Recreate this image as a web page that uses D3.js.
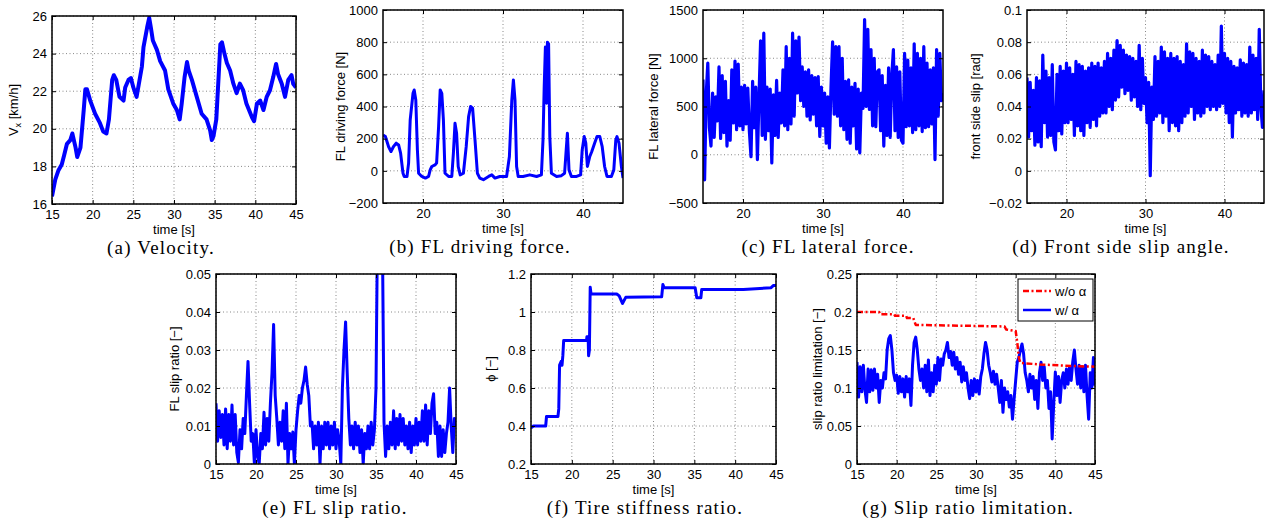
<!DOCTYPE html>
<html>
<head>
<meta charset="utf-8">
<script src="https://cdn.jsdelivr.net/npm/d3@7"></script>
<style>
  body { margin: 0; background: #fff; }
  svg { display: block; }
</style>
</head>
<body>
<div id="chart"></div>
<script>
// ---- data ----
// (a) velocity [km/h]
const velT = [15, 15.4, 15.8, 16.2, 16.5, 16.84, 17.25, 17.5, 17.9, 18.1, 18.5, 18.9, 19.1, 19.3, 19.7, 20.3, 20.9, 21.3, 21.7, 22.0,
  22.4, 22.6, 22.9, 23.3, 23.8, 24.0, 24.4, 24.7, 25.0, 25.4, 26.05, 26.25, 26.7, 26.95, 27.15, 27.4, 27.9, 28.3, 28.9, 29.3,
  29.9, 30.35, 30.7, 30.95, 31.3, 31.6, 31.8, 32.2, 32.8, 33.4, 34.0, 34.45, 34.65, 34.85, 35.2, 35.5, 35.7, 35.9, 36.2, 36.5,
  36.9, 37.3, 37.7, 38.1, 38.5, 38.9, 39.6, 39.85, 40.2, 40.6, 41.0, 41.4, 41.8, 42.2, 42.55, 42.8, 43.25, 43.65, 44.05, 44.45, 44.65, 45];
const velV = [16.4, 17.3, 17.8, 18.1, 18.6, 19.2, 19.4, 19.75, 19.0, 18.5, 19.0, 21.0, 22.1, 22.1, 21.5, 20.8, 20.3, 19.85, 19.75, 20.5,
  22.6, 22.85, 22.6, 21.7, 21.5, 22.2, 22.6, 22.7, 22.2, 21.7, 23.3, 24.35, 25.4, 25.9, 25.4, 24.7, 24.2, 23.6, 23.1, 22.1,
  21.35, 21.0, 20.5, 21.35, 22.75, 23.55, 23.1, 22.6, 21.7, 20.8, 20.5, 19.9, 19.4, 19.6, 20.5, 22.9, 24.5, 24.6, 24.0, 23.5,
  23.1, 22.4, 21.9, 22.4, 22.05, 21.35, 20.6, 20.4, 21.35, 21.5, 21.0, 21.7, 22.05, 22.75, 23.45, 22.9, 22.4, 21.7, 22.6, 22.85, 22.4, 22.2];

// (b) FL driving force [N]
const drvT = [15, 15.3, 15.7, 16.0, 16.3, 16.65, 16.95, 17.2, 17.5, 17.65, 18.0, 18.2, 18.4, 18.75, 18.9, 19.1, 19.3, 19.45, 19.85, 20.3,
  20.7, 20.9, 21.1, 21.5, 21.7, 21.95, 22.15, 22.35, 22.55, 22.75, 23.2, 23.6, 23.8, 24.0, 24.2, 24.4, 24.65, 25.05, 25.4, 25.7,
  25.95, 26.2, 26.5, 26.8, 27.1, 27.55, 28.2, 28.6, 29.0, 29.6, 30.45, 30.8, 31.1, 31.3, 31.5, 31.7, 31.9, 32.5, 33.35, 34.2,
  34.8, 35.0, 35.15, 35.3, 35.45, 35.55, 35.7, 35.85, 36.05, 36.7, 37.3, 37.7, 37.9, 38.05, 38.25, 38.55, 39.2, 39.7, 39.9, 40.15,
  40.35, 40.55, 40.85, 41.1, 41.45, 41.75, 42.1, 42.4, 42.7, 43.0, 43.55, 43.85, 44.1, 44.25, 44.5, 44.8, 45];
const drvV = [223, 213, 150, 120, 150, 172, 161, 110, -15, -35, -35, 48, 317, 482, 503, 440, 130, -15, -35, -45,
  -35, 6, 27, 37, 48, 275, 503, 482, 317, -15, -35, -35, 110, 296, 234, 27, -25, -15, 150, 337,
  400, 390, 192, -15, -45, -55, -35, -25, -45, -35, -35, 89, 440, 565, 440, 27, -35, -35, -25, -35,
  -25, 192, 523, 770, 420, 800, 790, 213, -15, -35, -30, -15, 130, 234, 6, -35, -35, -25, 130, 213,
  172, 27, 89, 120, 172, 213, 213, 150, 27, -35, -35, 6, 192, 213, 172, 27, -45];

// noisy signals sampled every 0.2 s from 15 s to 45 s
const sampleT = d3.range(0, 151).map(i => 15 + i * 0.2);

// (c) FL lateral force [N]
const latV = [780, -260, 620, 950, 280,  90, 640, 180, 600, 350,  910, 170, 820, 230, 760,  90, 560, 150, 880, 330,
  970, 260, 940, 300, 700,  260, 720, 320, 690, 240,  -20, 760, 280, 700, -50,  600, 1180, 200, 1260, 160,
  700, 250, 680, -85, 620,  200, 770, 180, 640, 330,  880, 300, 1120, 260, 1000,  320, 1260, 400, 1180, 640,
  1220, 560, 910, 500, 860,  400, 880, 360, 820, 420,  800, 300, 810, 190, 700,  300, 640, 120, 600, 70,
  700, 1170, 420, 1120, 400,  1120, 300, 1000, 260, 760,  160, 775, 120, 700, 300,  740, 60, 680, 20, 640,
  480, 1400, 500, 1300, 470,  1090, 300, 1000, 290, 860,  880, 250, 820, 90, 720,  200, 900, 180, 820, 1090,
  250, 910, 180, 860, 150,  120, 1050, 290, 980, 300,  900, 230, 1150, 260, 1050,  300, 1000, 240, 1120, 280,
  950, 290, 880, 320, 900,  -50, 1090, 400, 1050, 560,  640];

// (d) front side slip [rad]
const slipAngV = [0.058, 0.021, 0.055, 0.025, 0.050,  0.016, 0.058, 0.018, 0.056, 0.015,  0.072, 0.030, 0.062, 0.021, 0.058,
  0.022, 0.066, 0.018, 0.013, 0.060,  0.025, 0.065, 0.023, 0.062, 0.030,  0.067, 0.030, 0.064, 0.032, 0.060,
  0.022, 0.068, 0.028, 0.066, 0.025,  0.065, 0.022, 0.062, 0.030, 0.064,  0.027, 0.067, 0.032, 0.065, 0.028,
  0.067, 0.034, 0.064, 0.036, 0.068,  0.036, 0.073, 0.040, 0.070, 0.038,  0.075, 0.044, 0.081, 0.046, 0.078,
  0.052, 0.075, 0.048, 0.072, 0.050,  0.071, 0.044, 0.070, 0.046, 0.068,  0.040, 0.078, 0.038, 0.070, 0.042,
  0.058, 0.030, 0.055, -0.003, 0.052,  0.032, 0.071, 0.034, 0.068, 0.036,  0.077, 0.030, 0.074, 0.034, 0.070,
  0.025, 0.073, 0.030, 0.070, 0.028,  0.071, 0.025, 0.068, 0.030, 0.066,  0.034, 0.079, 0.036, 0.074, 0.040,
  0.073, 0.032, 0.070, 0.036, 0.068,  0.034, 0.075, 0.036, 0.072, 0.040,  0.071, 0.038, 0.068, 0.040, 0.066,
  0.038, 0.072, 0.040, 0.090, 0.042,  0.073, 0.036, 0.070, 0.030, 0.068,  0.021, 0.065, 0.036, 0.064, 0.038,
  0.069, 0.034, 0.067, 0.036, 0.066,  0.034, 0.077, 0.036, 0.072, 0.038,  0.070, 0.032, 0.088, 0.040, 0.027,  0.050];

// (e) FL slip ratio [-]
const slipV = [0.016, 0.006, 0.014, 0.007, 0.013,  0.005, 0.0145, 0.004, 0.013, 0.006,  0.0155, 0.005, 0.013, 0.003, 0.0004,
  0.009, 0.004, 0.012, 0.008, 0.018,  0.027, 0.016, 0.006, 0.008, 0.0,  0.009, 0.002, 0.0, 0.008, 0.004,
  0.0136, 0.005, 0.012, 0.006, 0.016,  0.024, 0.0367, 0.018, 0.012, 0.005,  0.011, 0.006, 0.014, 0.004, 0.016,
  0.0, 0.008, 0.004, 0.0084, 0.0,  0.009, 0.014, 0.018, 0.016, 0.020,  0.022, 0.0255, 0.021, 0.018, 0.010,
  0.011, 0.004, 0.010, 0.005, 0.011,  0.0, 0.010, 0.004, 0.011, 0.005,  0.011, 0.004, 0.010, 0.005, 0.011,
  0.004, 0.009, 0.006, 0.0, 0.020,  0.030, 0.0374, 0.024, 0.012, 0.005,  0.010, 0.004, 0.011, 0.005, 0.010,
  0.003, 0.009, 0.0, 0.008, 0.004,  0.010, 0.004, 0.011, 0.005, 0.009,  0.020, 0.065, 0.070, 0.068, 0.060,
  0.011, 0.002, 0.010, 0.004, 0.011,  0.005, 0.014, 0.004, 0.012, 0.005,  0.013, 0.006, 0.012, 0.005, 0.010,
  0.004, 0.011, 0.003, 0.010, 0.005,  0.012, 0.005, 0.011, 0.006, 0.014,  0.006, 0.0155, 0.005, 0.014, 0.008,
  0.016, 0.0185, 0.008, 0.011, 0.002,  0.010, 0.002, 0.009, 0.003, 0.008,  0.011, 0.020, 0.010, 0.003, 0.012,  0.010];

// (f) tire stiffness ratio phi [-]
const phiT = [15, 15.3, 16.8, 16.9, 18.3, 18.4, 18.5, 18.7, 18.8, 18.9, 19.0, 21.8, 21.85, 22.0, 22.05, 22.15, 22.25, 22.35, 25.5, 25.8,
  26.2, 26.6, 31.0, 31.15, 31.3, 35.1, 35.3, 35.8, 35.9, 41.0, 44.4, 44.7, 45];
const phiV = [0.39, 0.40, 0.40, 0.45, 0.45, 0.49, 0.72, 0.74, 0.72, 0.77, 0.85, 0.85, 0.87, 0.87, 0.77, 0.80, 1.13, 1.095, 1.095, 1.085,
  1.045, 1.077, 1.08, 1.145, 1.128, 1.128, 1.075, 1.075, 1.118, 1.118, 1.128, 1.14, 1.14];

// (g) slip ratio limitation [-]
const limNoAlphaT = [15, 17.8, 17.9, 19.7, 19.8, 21.2, 21.3, 22.1, 22.4, 33.6, 33.8, 35.0, 35.2, 35.4, 35.6, 38.0, 42.0, 45];
const limNoAlphaV = [0.200, 0.200, 0.197, 0.197, 0.195, 0.195, 0.192, 0.192, 0.183, 0.181, 0.177, 0.175, 0.160, 0.140, 0.133, 0.131, 0.129, 0.128];
const limAlphaV = [0.134, 0.088, 0.128, 0.095, 0.130,  0.098, 0.081, 0.125, 0.095, 0.124,  0.097, 0.125, 0.100, 0.118, 0.081,
  0.110, 0.100, 0.120, 0.112, 0.150,  0.165, 0.169, 0.150, 0.120, 0.110,  0.117, 0.093, 0.115, 0.095, 0.112,
  0.088, 0.115, 0.095, 0.112, 0.077,  0.130, 0.160, 0.167, 0.150, 0.125,  0.110, 0.125, 0.100, 0.130, 0.095,
  0.137, 0.090, 0.120, 0.095, 0.130,  0.105, 0.140, 0.110, 0.138, 0.130,  0.145, 0.150, 0.160, 0.140, 0.148,
  0.130, 0.147, 0.125, 0.140, 0.118,  0.134, 0.108, 0.128, 0.110, 0.120,  0.100, 0.086, 0.110, 0.090, 0.112,
  0.095, 0.110, 0.092, 0.115, 0.125,  0.145, 0.160, 0.150, 0.130, 0.120,  0.108, 0.122, 0.105, 0.118, 0.100,
  0.081, 0.110, 0.068, 0.100, 0.085,  0.095, 0.075, 0.090, 0.059, 0.085,  0.110, 0.134, 0.140, 0.150, 0.158,
  0.145, 0.120, 0.110, 0.095, 0.118,  0.100, 0.115, 0.085, 0.110, 0.073,  0.120, 0.134, 0.110, 0.128, 0.100,
  0.110, 0.073, 0.095, 0.033, 0.080,  0.121, 0.090, 0.115, 0.081, 0.110,  0.120, 0.100, 0.125, 0.105, 0.128,
  0.110, 0.135, 0.150, 0.125, 0.105,  0.130, 0.100, 0.128, 0.095, 0.130,  0.090, 0.059, 0.120, 0.100, 0.140,  0.103];

// ticks
const xTicksAll = [15, 20, 25, 30, 35, 40, 45];
const xTicksTen = [20, 30, 40];
const legendLabels = ["w/o \u03b1", "w/ \u03b1"];

const width = 1275, height = 524;
const svg = d3.select("#chart").append("svg")
    .attr("width", width)
    .attr("height", height);

const sans = "'Liberation Sans', Arial, sans-serif";
const serif = "'Liberation Serif', 'Times New Roman', serif";
let clipId = 0;

function panel(p) {
    let g = svg.append("g");
    let x = d3.scaleLinear().domain([15, 45]).range([p.x0, p.x1]);
    let y = d3.scaleLinear().domain(p.yDomain).range([p.y1, p.y0]);

    // dotted grid
    g.selectAll(".gx").data(p.xTicks).join("line")
        .attr("x1", d => x(d)).attr("x2", d => x(d))
        .attr("y1", p.y0).attr("y2", p.y1)
        .attr("stroke", "#888").attr("stroke-width", 1).attr("stroke-dasharray", "1,2.5");
    g.selectAll(".gy").data(p.yTicks).join("line")
        .attr("x1", p.x0).attr("x2", p.x1)
        .attr("y1", d => y(d)).attr("y2", d => y(d))
        .attr("stroke", "#888").attr("stroke-width", 1).attr("stroke-dasharray", "1,2.5");

    // lines
    let id = "clip" + (clipId++);
    g.append("clipPath").attr("id", id).append("rect")
        .attr("x", p.x0).attr("y", p.y0)
        .attr("width", p.x1 - p.x0).attr("height", p.y1 - p.y0);
    p.series.forEach(s => {
        g.append("path")
            .datum(d3.zip(s.t, s.v))
            .attr("clip-path", `url(#${id})`)
            .attr("d", d3.line().x(d => x(d[0])).y(d => y(d[1])))
            .attr("fill", "none")
            .attr("stroke", s.color)
            .attr("stroke-width", s.width)
            .attr("stroke-linejoin", "round")
            .attr("stroke-dasharray", s.dash || null);
    });

    // axes, MATLAB style: inward ticks on all sides
    let styleAxis = sel => {
        sel.select(".domain").remove();
        sel.attr("font-family", sans).attr("font-size", 13);
        sel.selectAll("line").attr("stroke", "#000");
        sel.selectAll("text").attr("fill", "#000");
    };
    g.append("g").attr("transform", `translate(0,${p.y1})`)
        .call(d3.axisBottom(x).tickValues(p.xTicks).tickSize(-4).tickSizeOuter(0).tickPadding(5.5).tickFormat(d => d))
        .call(styleAxis);
    g.append("g").attr("transform", `translate(0,${p.y0})`)
        .call(d3.axisTop(x).tickValues(p.xTicks).tickSize(-4).tickSizeOuter(0).tickFormat(""))
        .call(styleAxis);
    g.append("g").attr("transform", `translate(${p.x0},0)`)
        .call(d3.axisLeft(y).tickValues(p.yTicks).tickSize(-4).tickSizeOuter(0).tickPadding(5).tickFormat((d, i) => p.yLabels[i]))
        .call(styleAxis);
    g.append("g").attr("transform", `translate(${p.x1},0)`)
        .call(d3.axisRight(y).tickValues(p.yTicks).tickSize(-4).tickSizeOuter(0).tickFormat(""))
        .call(styleAxis);

    g.append("rect")
        .attr("x", p.x0).attr("y", p.y0)
        .attr("width", p.x1 - p.x0).attr("height", p.y1 - p.y0)
        .attr("fill", "none").attr("stroke", "#000").attr("stroke-width", 1.5);

    // labels
    g.append("text")
        .attr("x", (p.x0 + p.x1) / 2).attr("y", p.y1 + 29.8)
        .attr("text-anchor", "middle")
        .attr("font-family", sans).attr("font-size", 13)
        .text("time [s]");

    let yl = g.append("text")
        .attr("transform", `translate(${p.ylx},${(p.y0 + p.y1) / 2}) rotate(-90)`)
        .attr("text-anchor", "middle")
        .attr("dy", "0.35em")
        .attr("font-family", sans).attr("font-size", 13);
    p.yTitle.forEach(part => {
        yl.append("tspan")
            .attr("dy", part.sub ? 3 : (part.after ? -3 : null))
            .attr("font-size", part.sub ? 9 : null)
            .text(part.text);
    });

    svg.append("text")
        .attr("x", p.capX).attr("y", p.y1 + 49.6)
        .attr("text-anchor", "middle")
        .attr("font-family", serif).attr("font-size", 19)
        .attr("letter-spacing", 1.2)
        .text(p.caption);

    return {x, y, g};
}

const blue = "#0000ff";

panel({
    x0: 52, x1: 296, y0: 16, y1: 204, ylx: 13, capX: 161,
    yDomain: [16, 26], xTicks: xTicksAll,
    yTicks: [16, 18, 20, 22, 24, 26], yLabels: ["16", "18", "20", "22", "24", "26"],
    yTitle: [{text: "V"}, {text: "x", sub: true}, {text: " [km/h]", after: true}],
    caption: "(a)  Velocity.",
    series: [{t: velT, v: velV, color: blue, width: 4}]
});

panel({
    x0: 383, x1: 623, y0: 10, y1: 203, ylx: 340, capX: 480,
    yDomain: [-200, 1000], xTicks: xTicksTen,
    yTicks: [-200, 0, 200, 400, 600, 800, 1000], yLabels: ["\u2212200", "0", "200", "400", "600", "800", "1000"],
    yTitle: [{text: "FL driving force [N]"}],
    caption: "(b)  FL driving force.",
    series: [{t: drvT, v: drvV, color: blue, width: 3}]
});

panel({
    x0: 703, x1: 943, y0: 10, y1: 203, ylx: 653, capX: 828,
    yDomain: [-500, 1500], xTicks: xTicksTen,
    yTicks: [-500, 0, 500, 1000, 1500], yLabels: ["\u2212500", "0", "500", "1000", "1500"],
    yTitle: [{text: "FL lateral force [N]"}],
    caption: "(c)  FL lateral force.",
    series: [{t: sampleT, v: latV, color: blue, width: 3.2}]
});

panel({
    x0: 1027, x1: 1264, y0: 10, y1: 203, ylx: 975, capX: 1121,
    yDomain: [-0.02, 0.1], xTicks: xTicksTen,
    yTicks: [-0.02, 0, 0.02, 0.04, 0.06, 0.08, 0.1], yLabels: ["\u22120.02", "0", "0.02", "0.04", "0.06", "0.08", "0.1"],
    yTitle: [{text: "front side slip [rad]"}],
    caption: "(d)  Front side slip angle.",
    series: [{t: sampleT, v: slipAngV, color: blue, width: 3.2}]
});

panel({
    x0: 216, x1: 456, y0: 274, y1: 464, ylx: 174, capX: 335,
    yDomain: [0, 0.05], xTicks: xTicksAll,
    yTicks: [0, 0.01, 0.02, 0.03, 0.04, 0.05], yLabels: ["0", "0.01", "0.02", "0.03", "0.04", "0.05"],
    yTitle: [{text: "FL slip ratio [\u2212]"}],
    caption: "(e)  FL slip ratio.",
    series: [{t: sampleT, v: slipV, color: blue, width: 3}]
});

panel({
    x0: 531, x1: 776, y0: 274, y1: 464, ylx: 490, capX: 645,
    yDomain: [0.2, 1.2], xTicks: xTicksAll,
    yTicks: [0.2, 0.4, 0.6, 0.8, 1, 1.2], yLabels: ["0.2", "0.4", "0.6", "0.8", "1", "1.2"],
    yTitle: [{text: "\u03d5 [\u2212]"}],
    caption: "(f)  Tire stiffness ratio.",
    series: [{t: phiT, v: phiV, color: blue, width: 3}]
});

panel({
    x0: 857, x1: 1095, y0: 274, y1: 464, ylx: 817, capX: 968,
    yDomain: [0, 0.25], xTicks: xTicksAll,
    yTicks: [0, 0.05, 0.1, 0.15, 0.2, 0.25], yLabels: ["0", "0.05", "0.1", "0.15", "0.2", "0.25"],
    yTitle: [{text: "slip ratio limitation [\u2212]"}],
    caption: "(g)  Slip ratio limitation.",
    series: [
        {t: sampleT, v: limAlphaV, color: blue, width: 3},
        {t: limNoAlphaT, v: limNoAlphaV, color: "#ff0000", width: 2.5, dash: "6,2.5,2,2.5"}
    ]
});

// legend for (g)
let leg = svg.append("g").attr("transform", "translate(1018,279)");
leg.append("rect").attr("width", 75).attr("height", 42)
    .attr("fill", "#fff").attr("stroke", "#000").attr("stroke-width", 1);
const legendStyles = [{color: "#ff0000", dash: "6,2.5,2,2.5"}, {color: blue, dash: null}];
legendLabels.forEach((lab, i) => {
    let ly = 12 + i * 19;
    leg.append("line").attr("x1", 5).attr("x2", 33).attr("y1", ly).attr("y2", ly)
        .attr("stroke", legendStyles[i].color).attr("stroke-width", 2.5)
        .attr("stroke-dasharray", legendStyles[i].dash);
    leg.append("text").attr("x", 37).attr("y", ly).attr("dy", "0.35em")
        .attr("font-family", sans).attr("font-size", 13)
        .text(lab);
});
</script>
</body>
</html>
